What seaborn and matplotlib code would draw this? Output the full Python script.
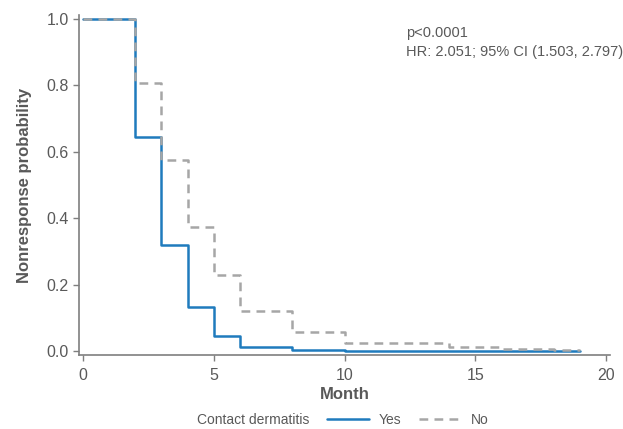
import pandas as pd
import matplotlib
matplotlib.use("Agg")
import matplotlib.pyplot as plt
import seaborn as sns
from matplotlib.lines import Line2D

# Kaplan-Meier style step values
yes_month = [0, 2, 3, 4, 5, 6, 8, 10, 19]
yes_prob = [1.0, 0.644, 0.321, 0.133, 0.047, 0.013, 0.004, 0.001, 0.001]

no_month = [0, 2, 3, 4, 5, 6, 8, 10, 14, 16, 18, 19]
no_prob = [1.0, 0.807, 0.575, 0.375, 0.229, 0.122, 0.058, 0.024, 0.014, 0.008, 0.004, 0.004]

groups = ["Yes", "No"]
annot_lines = ["p<0.0001", "HR: 2.051; 95% CI (1.503, 2.797)"]

df = pd.concat([
    pd.DataFrame({"month": yes_month, "prob": yes_prob, "group": "Yes"}),
    pd.DataFrame({"month": no_month, "prob": no_prob, "group": "No"}),
])

sns.set_style("ticks")
plt.rcParams["font.family"] = ["Liberation Sans", "DejaVu Sans"]

text_col = "#595959"
axis_col = "#7f7f7f"
blue = "#1f7bbd"
grey = "#a6a6a6"

fig = plt.figure(figsize=(6.23, 4.29), dpi=100)
ax = fig.add_axes([0.127, 0.172, 0.852, 0.793])

sns.lineplot(
    data=df, x="month", y="prob",
    hue="group", style="group", hue_order=groups, style_order=groups,
    palette={"Yes": blue, "No": grey},
    dashes={"Yes": "", "No": (3.5, 2.5)},
    drawstyle="steps-post", estimator=None, sort=False,
    linewidth=1.8, legend=False, ax=ax
)

ax.set_xlim(-0.15, 20.15)
ax.set_ylim(-0.012, 1.012)
ax.set_xticks([0, 5, 10, 15, 20])
ax.set_yticks([0.0, 0.2, 0.4, 0.6, 0.8, 1.0])
ax.set_yticklabels(["0.0", "0.2", "0.4", "0.6", "0.8", "1.0"])

sns.despine(ax=ax)
for side in ["left", "bottom"]:
    ax.spines[side].set_color(axis_col)
    ax.spines[side].set_linewidth(1.2)
ax.tick_params(colors=axis_col, labelcolor=text_col, labelsize=11.5, length=4, width=1)
ax.tick_params(axis="x", pad=5)

ax.set_xlabel("Month", fontsize=12, fontweight="bold", color=text_col, labelpad=3)
ax.set_ylabel("Nonresponse probability", fontsize=12, fontweight="bold", color=text_col, labelpad=10)

ax.text(0.616, 0.968, "\n".join(annot_lines), transform=ax.transAxes,
        fontsize=10.5, color=text_col, va="top", ha="left", linespacing=1.5)

fig.text(0.316, 0.021, "Contact dermatitis", fontsize=10, color=text_col, va="center")
handles = [
    Line2D([], [], color=blue, lw=1.8),
    Line2D([], [], color=grey, lw=1.8, dashes=(3.5, 2.5)),
]
fig.legend(handles, groups, loc="center left", bbox_to_anchor=(0.505, 0.021),
           ncol=2, frameon=False, fontsize=10, labelcolor=text_col,
           handlelength=3.0, handletextpad=0.7, columnspacing=1.3)

fig.savefig("out.png", dpi=100)
